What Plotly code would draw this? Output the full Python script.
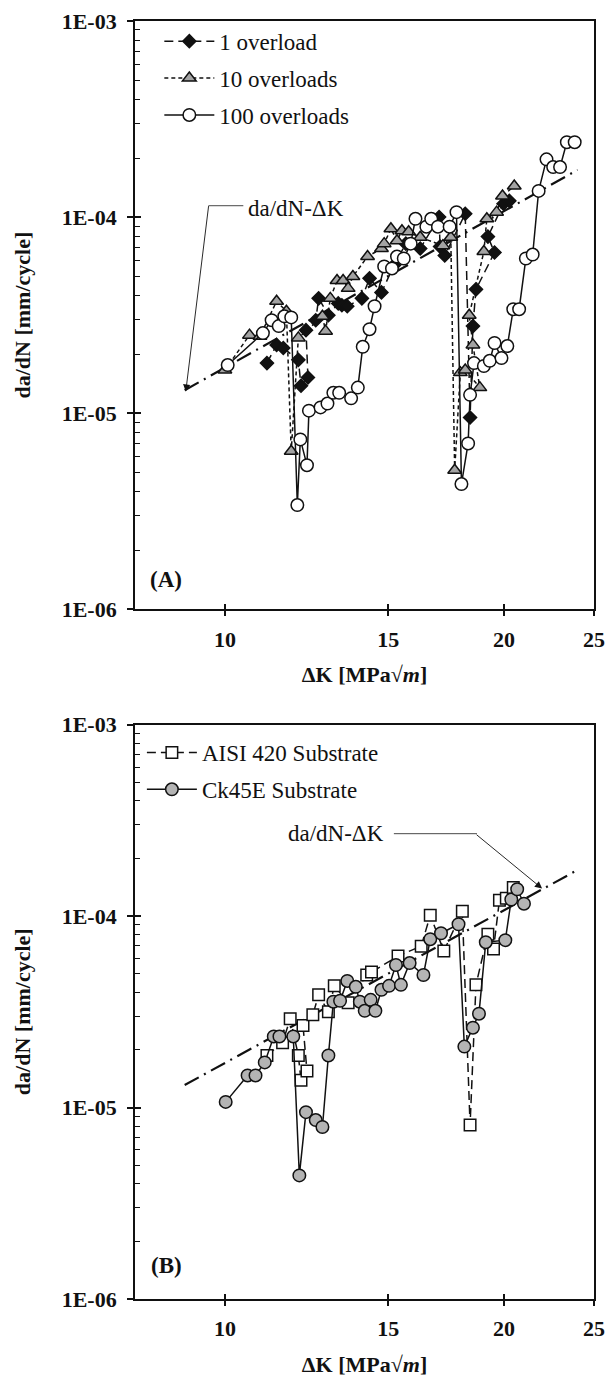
import math
import plotly.graph_objects as go

FONT = "Liberation Serif"
INK = "#111111"

# ---------------- Panel A data ----------------
one_ol_dk = [11.10, 11.37, 11.56, 12.00, 12.08, 12.29, 12.23, 12.53, 12.62, 12.93,
             13.25, 13.37, 13.55, 14.05, 14.32, 14.75, 15.22, 15.67, 16.24, 17.02,
             17.06, 17.26, 18.16, 18.38, 18.51, 18.65, 19.53, 19.21, 19.97, 20.26]
one_ol_rate = [1.80e-5, 2.23e-5, 2.15e-5, 1.87e-5, 1.38e-5, 1.52e-5, 2.65e-5, 2.98e-5, 3.85e-5, 3.16e-5,
               3.63e-5, 3.55e-5, 3.51e-5, 3.85e-5, 4.87e-5, 4.13e-5, 5.68e-5, 7.32e-5, 6.91e-5, 1.00e-4,
               7.07e-5, 6.37e-5, 1.04e-4, 9.50e-6, 2.78e-5, 4.28e-5, 6.60e-5, 7.95e-5, 1.17e-4, 1.21e-4]

ten_ol_dk = [10.00, 10.63, 10.91, 11.37, 11.65, 11.79, 12.00, 12.74, 12.84, 12.99,
             13.21, 13.41, 13.58, 13.74, 14.25, 14.75, 14.85, 15.10, 15.33, 15.52,
             15.78, 16.24, 17.18, 17.52, 17.69, 17.94, 18.16, 18.83, 18.51, 18.34,
             19.02, 19.16, 19.63, 19.92, 20.51]
ten_ol_rate = [1.66e-5, 2.50e-5, 2.47e-5, 3.72e-5, 3.31e-5, 6.39e-6, 2.42e-5, 3.12e-5, 2.62e-5, 3.85e-5,
               4.75e-5, 4.75e-5, 4.33e-5, 4.98e-5, 6.29e-5, 6.91e-5, 7.32e-5, 8.72e-5, 7.58e-5, 8.52e-5,
               8.42e-5, 7.89e-5, 7.15e-5, 7.89e-5, 5.12e-6, 1.61e-5, 1.66e-5, 1.35e-5, 2.23e-5, 3.16e-5,
               6.67e-5, 9.80e-5, 1.06e-4, 1.28e-4, 1.44e-4]

hundred_ol_dk = [10.07, 10.99, 11.23, 11.43, 11.59, 11.79, 11.97, 12.06, 12.26, 12.32,
                 12.68, 12.90, 13.09, 13.28, 13.68, 13.91, 14.08, 14.32, 14.50, 14.85,
                 15.14, 15.33, 15.59, 15.86, 16.05, 16.49, 16.69, 16.97, 17.47, 17.77,
                 17.99, 18.29, 18.38, 18.56, 19.02, 19.30, 19.53, 19.87, 20.16, 20.46,
                 20.76, 21.11, 21.47, 21.79, 22.22, 22.59, 22.98, 23.37, 23.83]
hundred_ol_rate = [1.76e-5, 2.56e-5, 2.98e-5, 2.78e-5, 3.12e-5, 3.08e-5, 3.40e-6, 7.35e-6, 5.43e-6, 1.03e-5,
                   1.07e-5, 1.12e-5, 1.27e-5, 1.27e-5, 1.19e-5, 1.35e-5, 2.18e-5, 2.68e-5, 3.51e-5, 5.60e-5,
                   5.47e-5, 6.29e-5, 6.15e-5, 7.32e-5, 9.80e-5, 8.93e-5, 9.80e-5, 8.93e-5, 8.93e-5, 1.06e-4,
                   4.35e-6, 7.01e-6, 1.24e-5, 1.80e-5, 1.74e-5, 1.85e-5, 2.28e-5, 1.91e-5, 2.20e-5, 3.39e-5,
                   3.39e-5, 6.15e-5, 6.44e-5, 1.36e-4, 1.97e-4, 1.80e-4, 1.80e-4, 2.41e-4, 2.41e-4]

# ---------------- Panel B data ----------------
aisi_dk = [11.10, 11.54, 11.76, 12.00, 12.08, 12.26, 12.14, 12.44, 12.62, 12.93,
           13.12, 13.58, 14.22, 14.39, 15.37, 16.28, 16.65, 17.22, 18.03, 18.38,
           18.65, 19.21, 19.48, 19.77, 20.11, 20.46]
aisi_rate = [1.87e-5, 2.18e-5, 2.91e-5, 1.87e-5, 1.39e-5, 1.55e-5, 2.68e-5, 3.05e-5, 3.88e-5, 3.16e-5,
             4.32e-5, 3.52e-5, 4.92e-5, 5.10e-5, 6.18e-5, 6.96e-5, 1.01e-4, 6.56e-5, 1.06e-4, 8.10e-6,
             4.37e-5, 8.04e-5, 6.72e-5, 1.21e-4, 1.24e-4, 1.41e-4]

ck45_dk = [10.02, 10.58, 10.79, 11.04, 11.29, 11.45, 11.85, 12.03, 12.23, 12.53,
           12.74, 12.93, 13.09, 13.31, 13.55, 13.84, 13.98, 14.15, 14.36, 14.53,
           14.75, 15.03, 15.29, 15.48, 15.82, 16.37, 16.65, 17.10, 17.86, 18.12,
           18.51, 18.79, 19.11, 20.06, 20.36, 20.66, 21.01]
ck45_rate = [1.07e-5, 1.47e-5, 1.47e-5, 1.72e-5, 2.35e-5, 2.35e-5, 2.35e-5, 4.42e-6, 9.46e-6, 8.60e-6,
             7.91e-6, 1.87e-5, 3.57e-5, 3.61e-5, 4.58e-5, 4.27e-5, 3.57e-5, 3.20e-5, 3.65e-5, 3.20e-5,
             4.12e-5, 4.32e-5, 5.55e-5, 4.37e-5, 5.68e-5, 4.92e-5, 7.57e-5, 8.13e-5, 9.06e-5, 2.08e-5,
             2.61e-5, 3.09e-5, 7.30e-5, 7.48e-5, 1.22e-4, 1.38e-4, 1.16e-4]

# Paris-law reference line (end points)
fit_dk = [9.05, 24.0]
fit_rate = [1.31e-5, 1.74e-4]

# axis settings
x_range = [math.log10(8), math.log10(25)]
y_range = [-6, -3]
x_ticks = [10, 15, 20, 25]
y_ticks = [1e-6, 1e-5, 1e-4, 1e-3]
y_ticktext = ["1E-06", "1E-05", "1E-04", "1E-03"]
y_minor = [k * 10.0 ** e for e in (-6, -5, -4) for k in range(2, 10)]

fig = go.Figure()


def add_fit(xa, ya):
    fig.add_trace(go.Scatter(x=fit_dk, y=fit_rate, xaxis=xa, yaxis=ya, mode="lines",
                             line=dict(color=INK, width=2.2, dash="16px,6px,2px,6px"),
                             showlegend=False, hoverinfo="skip"))


def add_series(x, y, name, xa, ya, legend, symbol, size, fill, dash):
    fig.add_trace(go.Scatter(
        x=x, y=y, name=name, xaxis=xa, yaxis=ya, legend=legend, legendgroup=name,
        mode="lines+markers",
        line=dict(color=INK, width=1.5, dash=dash),
        marker=dict(symbol=symbol, size=size, color=fill, line=dict(color=INK, width=1.5)),
    ))


add_fit("x", "y")
add_series(one_ol_dk, one_ol_rate, "1 overload", "x", "y", "legend", "diamond", 10, INK, "9px,5px")
add_series(ten_ol_dk, ten_ol_rate, "10 overloads", "x", "y", "legend", "triangle-up", 12, "#a3a3a3", "4px,3px")
add_series(hundred_ol_dk, hundred_ol_rate, "100 overloads", "x", "y", "legend", "circle", 12.5, "white", "solid")

add_fit("x2", "y2")
add_series(aisi_dk, aisi_rate, "AISI 420 Substrate", "x2", "y2", "legend2", "square", 11.5, "white", "9px,5px")
add_series(ck45_dk, ck45_rate, "Ck45E Substrate", "x2", "y2", "legend2", "circle", 12.5, "#b4b4b4", "solid")

# dummy traces for overlay (inside tick) axes
fig.add_trace(go.Scatter(x=[10], y=[1e-4], xaxis="x3", yaxis="y3", mode="markers",
                         marker=dict(opacity=0), showlegend=False, hoverinfo="skip"))
fig.add_trace(go.Scatter(x=[10], y=[1e-4], xaxis="x4", yaxis="y4", mode="markers",
                         marker=dict(opacity=0), showlegend=False, hoverinfo="skip"))

domA = [0.5397, 1.0]
domB = [0.0, 0.4495]

tickfont = dict(family=FONT, size=22, color=INK, weight="bold")
titlefont = dict(family=FONT, size=22, color=INK, weight="bold")


def main_x(anchor):
    return dict(type="log", range=x_range, anchor=anchor, tickmode="array", tickvals=x_ticks,
                ticktext=[str(v) for v in x_ticks], ticks="outside", ticklen=5, tickwidth=1.5,
                tickcolor=INK, showline=True, linecolor=INK, linewidth=1.8, mirror=True,
                showgrid=False, zeroline=False, tickfont=tickfont, ticklabelstandoff=4,
                title=dict(text="ΔK [MPa√<i>m</i>]", font=titlefont, standoff=16))


def main_y(anchor, dom):
    return dict(type="log", range=y_range, domain=dom, anchor=anchor, tickmode="array",
                tickvals=y_ticks, ticktext=y_ticktext, ticks="outside", ticklen=6, tickwidth=1.5,
                tickcolor=INK, showline=True, linecolor=INK, linewidth=1.8, mirror=True,
                showgrid=False, zeroline=False, tickfont=tickfont, ticklabelstandoff=6,
                title=dict(text="da/dN [mm/cycle]", font=titlefont, standoff=25))


def over_x(base, anchor):
    return dict(type="log", range=x_range, overlaying=base, anchor=anchor, tickmode="array",
                tickvals=x_ticks, ticks="inside", ticklen=5, tickwidth=1.5, tickcolor=INK,
                showticklabels=False, showline=False, showgrid=False, zeroline=False)


def over_y(base, anchor):
    return dict(type="log", range=y_range, overlaying=base, anchor=anchor, tickmode="array",
                tickvals=y_ticks, ticks="inside", ticklen=6, tickwidth=1.5, tickcolor=INK,
                showticklabels=False, showline=False, showgrid=False, zeroline=False,
                minor=dict(tickmode="array", tickvals=y_minor, ticks="inside", ticklen=5,
                           tickwidth=1.2, tickcolor=INK, showgrid=False))


fig.update_layout(
    width=614, height=1382,
    margin=dict(l=135, r=9, t=16, b=80),
    paper_bgcolor="white", plot_bgcolor="white",
    font=dict(family=FONT, color=INK),
    xaxis=main_x("y"), yaxis=main_y("x", domA),
    xaxis2=main_x("y2"), yaxis2=main_y("x2", domB),
    xaxis3=over_x("x", "y3"), yaxis3=over_y("y", "x3"),
    xaxis4=over_x("x2", "y4"), yaxis4=over_y("y2", "x4"),
    showlegend=True,
    legend=dict(x=0.053, y=1.001, xanchor="left", yanchor="top", bgcolor="rgba(0,0,0,0)",
                font=dict(family=FONT, size=23, color=INK), itemwidth=50,
                traceorder="grouped", tracegroupgap=4),
    legend2=dict(x=0.015, y=0.4445, xanchor="left", yanchor="top", bgcolor="rgba(0,0,0,0)",
                 font=dict(family=FONT, size=23, color=INK), itemwidth=50,
                 traceorder="grouped", tracegroupgap=4),
)

# labels and the da/dN-ΔK pointers
ann_font = dict(family=FONT, size=23, color=INK)
fig.add_annotation(xref="x domain", yref="y domain", x=0.068, y=0.051, text="<b>(A)</b>",
                   xanchor="center", yanchor="middle", showarrow=False,
                   font=dict(family=FONT, size=23, color=INK))
fig.add_annotation(xref="x2 domain", yref="y2 domain", x=0.068, y=0.058, text="<b>(B)</b>",
                   xanchor="center", yanchor="middle", showarrow=False,
                   font=dict(family=FONT, size=23, color=INK))

# panel A pointer
fig.add_annotation(xref="x domain", yref="y domain", x=0.351, y=0.681, text="da/dN-ΔK",
                   xanchor="center", yanchor="middle", showarrow=False, font=ann_font)
fig.add_shape(type="line", xref="x domain", yref="y domain", x0=0.160, x1=0.236, y0=0.686, y1=0.686,
              line=dict(color="#333333", width=0.9))
fig.add_annotation(xref="x domain", yref="y domain", x=0.1106, y=0.370, text="", showarrow=True,
                   ax=23, ay=-187, arrowhead=2, arrowsize=1.6, arrowwidth=0.9, arrowcolor=INK,
                   standoff=0, startstandoff=0)

# panel B pointer
fig.add_annotation(xref="x2 domain", yref="y2 domain", x=0.438, y=0.810, text="da/dN-ΔK",
                   xanchor="center", yanchor="middle", showarrow=False, font=ann_font)
fig.add_shape(type="line", xref="x2 domain", yref="y2 domain", x0=0.564, x1=0.745, y0=0.810, y1=0.810,
              line=dict(color="#333333", width=0.9))
fig.add_annotation(xref="x2 domain", yref="y2 domain", x=0.887, y=0.7145, text="", showarrow=True,
                   ax=-67, ay=-55, arrowhead=2, arrowsize=1.6, arrowwidth=0.9, arrowcolor=INK,
                   standoff=0, startstandoff=0)

fig.write_html("out.html")
